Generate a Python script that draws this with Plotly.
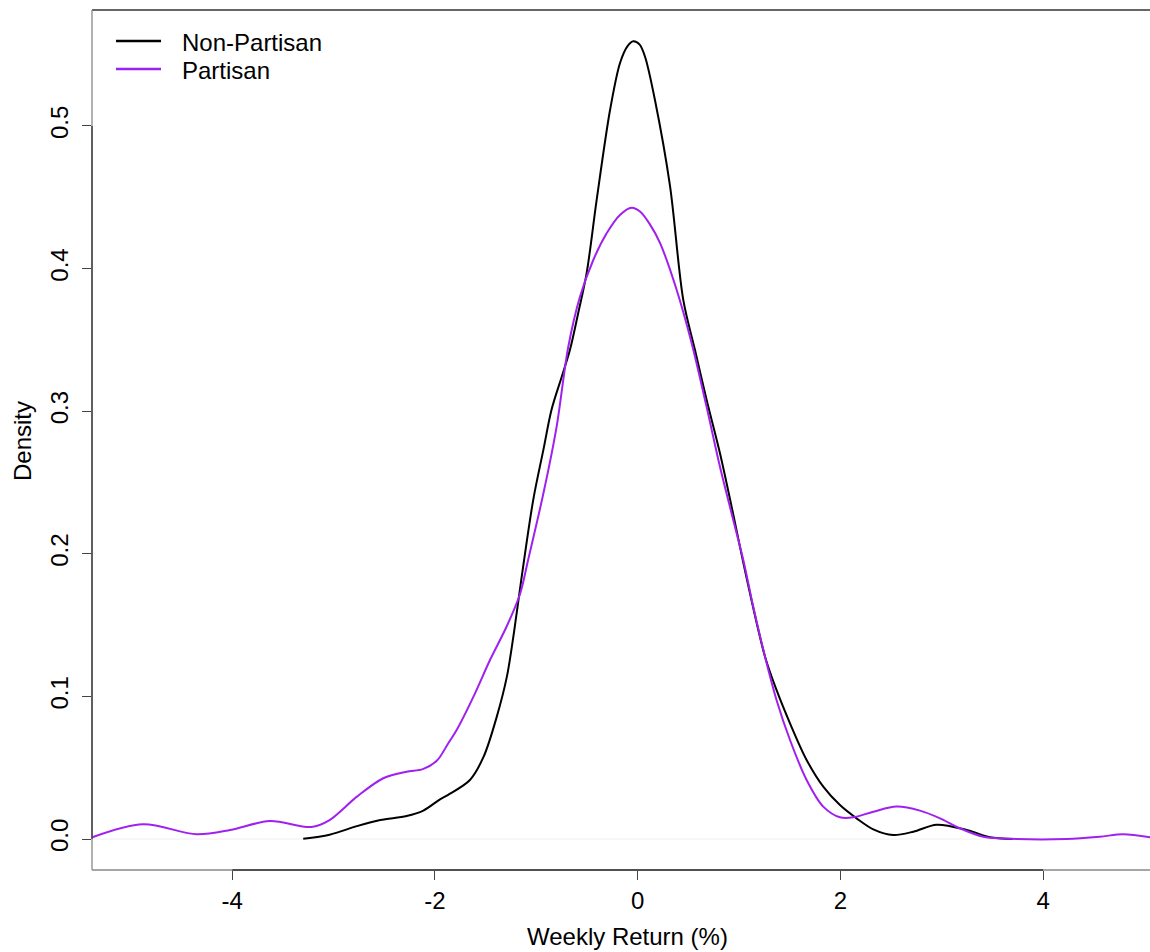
import plotly.graph_objects as go

# ---- data ----
series_names = ["Non-Partisan", "Partisan"]
series_colors = ["#000000", "#A020F0"]

nonpartisan_x = [-3.30, -3.04, -2.77, -2.54, -2.28, -2.115, -1.95, -1.87, -1.655, -1.52,
                 -1.39, -1.29, -1.22, -1.15, -1.03, -0.93, -0.85, -0.75, -0.668,
                 -0.586, -0.503, -0.405, -0.273, -0.175, -0.10, -0.043, 0.02, 0.075, 0.171, 0.319, 0.45,
                 0.565, 0.68, 0.812, 0.927, 1.075, 1.256, 1.37, 1.503, 1.667, 1.831,
                 1.996, 2.16, 2.325, 2.52, 2.72, 2.95, 3.246, 3.476, 3.70]
nonpartisan_y = [0.0002, 0.003, 0.009, 0.0133, 0.0161, 0.0199, 0.0278, 0.031, 0.0414, 0.0577,
                 0.0858, 0.114, 0.145, 0.181, 0.238, 0.273, 0.301, 0.324, 0.343,
                 0.369, 0.397, 0.448, 0.511, 0.544, 0.556, 0.5594, 0.557, 0.548, 0.518, 0.458, 0.378,
                 0.343, 0.308, 0.2705, 0.233, 0.183, 0.128, 0.1045, 0.0811, 0.0554, 0.0367,
                 0.0238, 0.0145, 0.0068, 0.0028, 0.0051, 0.0100, 0.0063, 0.0012, 0.0]

partisan_x = [-5.39, -4.88, -4.35, -4.02, -3.63, -3.22, -3.04, -2.77, -2.51, -2.28,
              -2.12, -1.98, -1.87, -1.786, -1.62, -1.457, -1.293, -1.16, -1.08, -0.93,
              -0.80, -0.685, -0.57, -0.438, -0.306, -0.175, -0.06, 0.023, 0.121, 0.22,
              0.385, 0.533, 0.68, 0.812, 0.943, 1.042, 1.14, 1.256, 1.37, 1.503,
              1.667, 1.831, 1.996, 2.127, 2.325, 2.555, 2.785, 2.983, 3.18, 3.41,
              3.74, 4.23, 4.56, 4.79, 5.06]
partisan_y = [0.001, 0.0103, 0.0033, 0.0063, 0.0126, 0.0084, 0.0133, 0.0297, 0.0426, 0.0472,
              0.049, 0.055, 0.067, 0.0764, 0.0998, 0.1255, 0.149, 0.172, 0.196, 0.2424,
              0.289, 0.345, 0.380, 0.406, 0.4247, 0.4376, 0.4427, 0.440, 0.431, 0.418,
              0.385, 0.3476, 0.303, 0.261, 0.2237, 0.1957, 0.163, 0.128, 0.0975, 0.0694,
              0.0414, 0.0227, 0.0152, 0.0152, 0.0191, 0.0227, 0.0199, 0.0145, 0.0075, 0.0016,
              0.0, 0.0, 0.0016, 0.0033, 0.0012]

x_ticks = [-4, -2, 0, 2, 4]
x_tick_labels = ["-4", "-2", "0", "2", "4"]
y_ticks = [0.0, 0.1, 0.2, 0.3, 0.4, 0.5]
y_tick_labels = ["0.0", "0.1", "0.2", "0.3", "0.4", "0.5"]

x_title = "Weekly Return (%)"
y_title = "Density"

# ---- layout geometry ----
W, H = 1150, 952
L, R, T, B = 92, 0, 10, 82
PW, PH = W - L - R, H - T - B
x_range = [-5.384, 5.055]
y_range = [-0.02174, 0.5813]
FONT = "Liberation Sans, Arial, Helvetica, sans-serif"
FS = 24


def px2paper_x(px):
    return (px - L) / PW


def py2paper_y(py):
    return (H - B - py) / PH


fig = go.Figure()
for name, color, xs, ys in [
    (series_names[0], series_colors[0], nonpartisan_x, nonpartisan_y),
    (series_names[1], series_colors[1], partisan_x, partisan_y),
]:
    fig.add_trace(go.Scatter(
        x=xs, y=ys, mode="lines", name=name, showlegend=False,
        line=dict(color=color, width=2, shape="spline", smoothing=0.9),
    ))

shapes = []
# faint zero line
shapes.append(dict(type="line", xref="paper", yref="y", x0=0, x1=1, y0=0, y1=0,
                   line=dict(color="#eeeeee", width=1), layer="below"))
# box lines
shapes.append(dict(type="line", xref="paper", yref="paper", x0=0, x1=1, y0=1, y1=1,
                   line=dict(color="#333333", width=1.3)))
shapes.append(dict(type="line", xref="paper", yref="paper", x0=0, x1=1, y0=0, y1=0,
                   line=dict(color="#888888", width=1.3)))
shapes.append(dict(type="line", xref="paper", yref="paper", x0=0, x1=0, y0=0, y1=1,
                   line=dict(color="#888888", width=1.3)))
# darker axis segments between first and last ticks
shapes.append(dict(type="line", xref="x", yref="paper", x0=x_ticks[0], x1=x_ticks[-1], y0=0, y1=0,
                   line=dict(color="#333333", width=1.3)))
shapes.append(dict(type="line", xref="paper", yref="y", x0=0, x1=0, y0=y_ticks[0], y1=y_ticks[-1],
                   line=dict(color="#333333", width=1.3)))

annotations = []
# legend (drawn manually, R style)
legend_rows = [41, 69]
for name, color, row in zip(series_names, series_colors, legend_rows):
    shapes.append(dict(type="line", xref="paper", yref="paper",
                       x0=px2paper_x(116), x1=px2paper_x(161),
                       y0=py2paper_y(row), y1=py2paper_y(row),
                       line=dict(color=color, width=2.5)))
    annotations.append(dict(text=name, xref="paper", yref="paper",
                            x=px2paper_x(180), y=py2paper_y(row + 1),
                            xanchor="left", yanchor="middle", showarrow=False,
                            font=dict(family=FONT, size=FS, color="black")))

# axis titles
annotations.append(dict(text=x_title, xref="paper", yref="paper",
                        x=px2paper_x(627), y=py2paper_y(936),
                        xanchor="center", yanchor="middle", showarrow=False,
                        font=dict(family=FONT, size=FS, color="black")))
annotations.append(dict(text=y_title, xref="paper", yref="paper",
                        x=px2paper_x(22), y=py2paper_y(441), textangle=-90,
                        xanchor="center", yanchor="middle", showarrow=False,
                        font=dict(family=FONT, size=FS, color="black")))

axis_common = dict(showgrid=False, zeroline=False, showline=False,
                   ticks="outside", ticklen=9, tickwidth=1.3, tickcolor="#444444",
                   tickfont=dict(family=FONT, size=FS, color="black"))

fig.update_layout(
    width=W, height=H,
    margin=dict(l=L, r=R, t=T, b=B, pad=0),
    paper_bgcolor="white", plot_bgcolor="white",
    font=dict(family=FONT, size=FS, color="black"),
    showlegend=False,
    shapes=shapes, annotations=annotations,
    xaxis=dict(range=x_range, tickmode="array", tickvals=x_ticks, ticktext=x_tick_labels,
               ticklabelstandoff=0, **axis_common),
    yaxis=dict(range=y_range, tickmode="array", tickvals=y_ticks, ticktext=y_tick_labels,
               tickangle=-90, ticklabelstandoff=4, **axis_common),
)

fig.write_html("out.html")
